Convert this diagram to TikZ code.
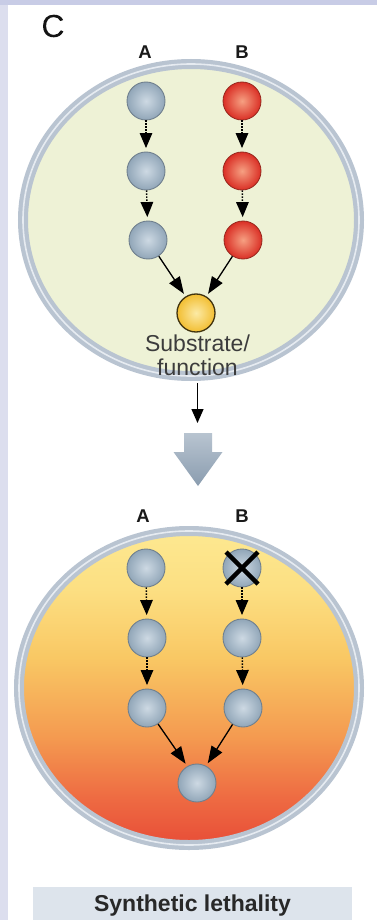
\documentclass[tikz,border=0pt]{standalone}
\usepackage{fontspec}
\setmainfont{Liberation Sans}
\usetikzlibrary{arrows.meta,calc}
\definecolor{lavL}{HTML}{DCDEEE}
\definecolor{lavT}{HTML}{C8CCE6}
\definecolor{cellfill}{HTML}{EEF2D6}
\definecolor{ringc}{HTML}{B9C4D1}
\definecolor{ringm}{HTML}{E6EBF1}
\definecolor{boxc}{HTML}{DDE4EC}
\definecolor{bigT}{HTML}{B8C4D0}
\definecolor{bigB}{HTML}{8A9CAF}
\definecolor{L1}{HTML}{E84F38}
\definecolor{L2}{HTML}{EE6A42}
\definecolor{L3}{HTML}{F49A50}
\definecolor{L4}{HTML}{F9C864}
\definecolor{L5}{HTML}{FCDF82}
\definecolor{L6}{HTML}{FDE890}
\pgfdeclareverticalshading{lethal}{100bp}{color(0bp)=(L1); color(25bp)=(L1); color(32bp)=(L2); color(42bp)=(L3); color(55bp)=(L4); color(66bp)=(L5); color(75bp)=(L6); color(100bp)=(L6)}
\begin{document}
\begin{tikzpicture}[x=1pt,y=-1pt,
  gnode/.style={circle, minimum size=38pt, inner sep=0pt, draw={rgb,255:red,112;green,128;blue,142}, line width=0.9pt, inner color={rgb,255:red,205;green,217;blue,227}, outer color={rgb,255:red,145;green,166;blue,184}},
  rnode/.style={circle, minimum size=38pt, inner sep=0pt, draw={rgb,255:red,150;green,40;blue,30}, line width=0.8pt, inner color={rgb,255:red,246;green,160;blue,130}, outer color={rgb,255:red,218;green,47;blue,37}},
  ynode/.style={circle, minimum size=38pt, inner sep=0pt, draw={rgb,255:red,65;green,52;blue,15}, line width=1.3pt, inner color={rgb,255:red,252;green,234;blue,165}, outer color={rgb,255:red,242;green,190;blue,50}},
  lab/.style={font=\fontsize{18.5}{18.5}\selectfont\bfseries, text={rgb,255:red,25;green,25;blue,25}, inner sep=0pt},
  colarr/.style={line width=1.4pt, dash pattern=on 1.5pt off 1.5pt, -{Triangle[length=15pt,width=12.5pt]}, shorten >=3.5pt},
  diag/.style={line width=1.3pt, -{Triangle[length=17pt,width=12.5pt]}},
  ring/.style={draw=ringc, line width=10pt},
  ringmid/.style={draw=ringm, line width=1.6pt}
]
\useasboundingbox (0,0) rectangle (377,920);
\fill[white] (0,0) rectangle (377,920);
\fill[lavL] (0,0) rectangle (8,920);
\fill[lavT] (0,0) rectangle (377,5);

\node[font=\fontsize{32}{32}\selectfont, inner sep=0pt, text={rgb,255:red,20;green,20;blue,20}, draw opacity=0] (C) at (53,26) {\addfontfeature{FakeBold=1.5}C};

% ---------- top cell ----------
\coordinate (topc) at (191,220);
\fill[cellfill] (topc) ellipse [x radius=168, y radius=156];
\draw[ring] (topc) ellipse [x radius=168, y radius=156];
\draw[ringmid] (topc) ellipse [x radius=168, y radius=156];

\node[lab] (LA) at (145,52.5) {A};
\node[lab] (LB) at (242,52.5) {B};

\node[gnode] (A1) at (146,101) {};
\node[gnode] (A2) at (146,171) {};
\node[gnode] (A3) at (148,240) {};
\node[rnode] (B1) at (242,101) {};
\node[rnode] (B2) at (242,171) {};
\node[rnode] (B3) at (243,240) {};
\node[ynode] (S) at (196,313) {};

\draw[colarr] (A1) -- (A2);
\draw[colarr] (A2) -- (A3);
\draw[colarr] (B1) -- (B2);
\draw[colarr] (B2) -- (B3);
\draw[diag, shorten >=3pt] (A3) -- (S.122);
\draw[diag, shorten >=3pt] (B3) -- (S.58);

\node[font=\fontsize{23}{24}\selectfont, align=center, inner sep=0pt, anchor=north, text={rgb,255:red,60;green,60;blue,60}] (sub) at (197.5,335) {Substrate/\\function};

% ---------- big arrow ----------
\shade[top color=bigT, bottom color=bigB] (184,433) -- (212,433) -- (212,452) -- (222.5,452) -- (198,486) -- (173.5,452) -- (184,452) -- cycle;
\coordinate (bigtop) at (197.5,433);
\draw[line width=1.3pt, -{Triangle[length=14pt,width=12pt]}, shorten <=7pt, shorten >=10pt] (sub.south) -- (bigtop);

% ---------- bottom cell ----------
\coordinate (botc) at (189,688);
\shade[shading=lethal] (botc) ellipse [x radius=167, y radius=154];
\draw[ring] (botc) ellipse [x radius=170, y radius=157];
\draw[ringmid] (botc) ellipse [x radius=170, y radius=157];

\node[lab] (LA2) at (143,516.5) {A};
\node[lab] (LB2) at (242,516.5) {B};

\node[gnode] (a1) at (146,568) {};
\node[gnode] (a2) at (147,638) {};
\node[gnode] (a3) at (147,708) {};
\node[gnode] (b1) at (242,568) {};
\node[gnode] (b2) at (242,638) {};
\node[gnode] (b3) at (243,708) {};
\node[gnode] (D) at (197,783) {};

\draw[line width=4.5pt, black] ($(b1)+(-16,-16)$) -- ($(b1)+(16,16)$);
\draw[line width=4.5pt, black] ($(b1)+(16,-16)$) -- ($(b1)+(-16,16)$);

\draw[colarr] (a1) -- (a2);
\draw[colarr] (a2) -- (a3);
\draw[colarr] (b1) -- (b2);
\draw[colarr] (b2) -- (b3);
\draw[diag, shorten >=3pt] (a3) -- (D.120);
\draw[diag, shorten >=3pt] (b3) -- (D.62);

% ---------- caption box ----------
\node[fill=boxc, minimum width=319pt, minimum height=33pt, inner sep=0pt, text height=16.5pt, text depth=0pt, font=\fontsize{23}{23}\selectfont\bfseries, text={rgb,255:red,40;green,40;blue,40}] (SL) at (192.5,903.5) {Synthetic lethality};
\end{tikzpicture}
\end{document}
